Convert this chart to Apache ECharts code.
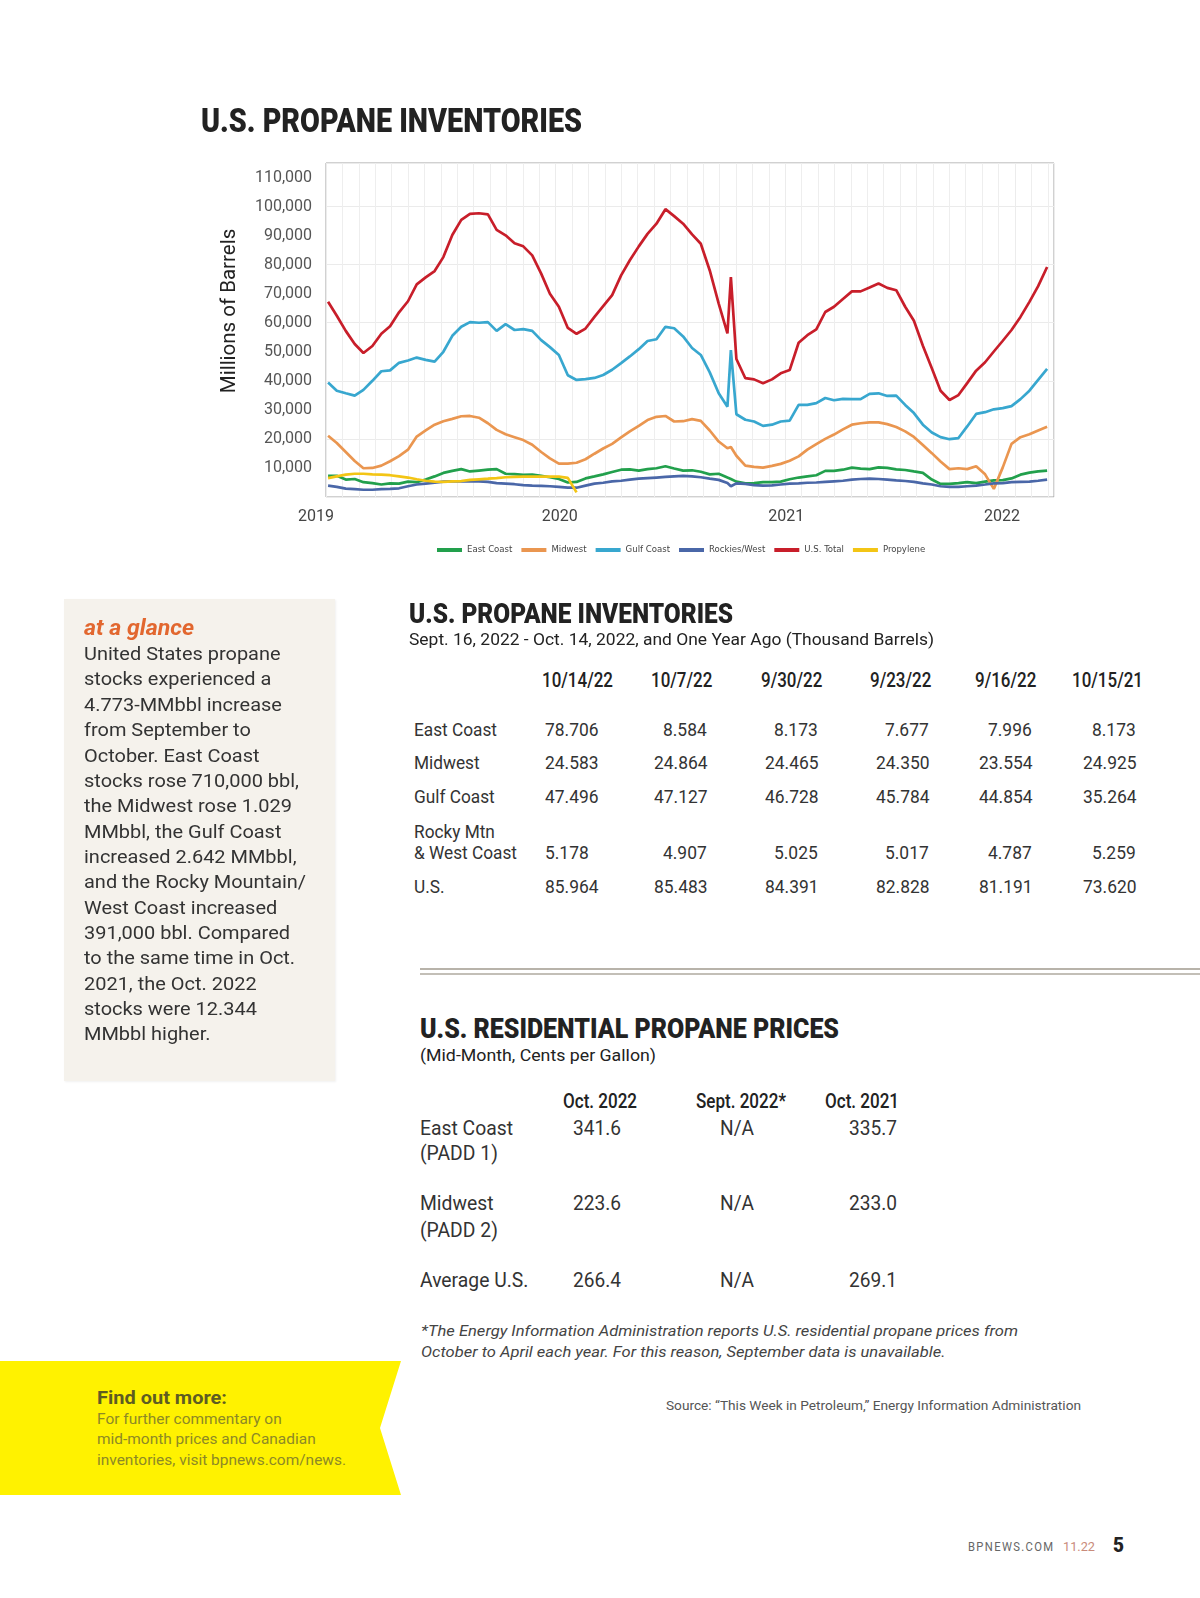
<!DOCTYPE html>
<html>
<head>
<meta charset="utf-8">
<script src="https://cdn.jsdelivr.net/npm/echarts@6/dist/echarts.min.js"></script>
<style>
  html, body { margin:0; padding:0; background:#fff; }
  body { width:1200px; height:1598px; position:relative; overflow:hidden; font-family: Roboto, "Noto Sans", sans-serif; }
  #chart { position:absolute; left:0; top:0; width:1200px; height:600px; }
  .box { position:absolute; }
</style>
</head>
<body>
<div id="chart"></div>
<div class="box" style="left:64px;top:599px;width:271px;height:482px;background:#f5f2ec;box-shadow:1px 1px 2px rgba(0,0,0,0.06);"></div>
<div class="box" style="left:420px;top:968px;width:780px;height:2px;background:#b8b3aa;"></div>
<div class="box" style="left:420px;top:973px;width:780px;height:2px;background:#c3bfb7;"></div>
<div class="box" style="left:0;top:1361px;width:401px;height:134px;background:#fff200;clip-path:polygon(0 0,401px 0,380px 67px,401px 134px,0 134px);"></div>
<script>
// ---------------- chart data (thousand barrels) ----------------
const seriesNames = ['East Coast','Midwest','Gulf Coast','Rockies/West','U.S. Total','Propylene'];
const xTickLabels = ['2019','2020','2021','2022'];
// sample positions along the time axis (decimal years)
const xPos = [2019.009,2019.047,2019.086,2019.125,2019.163,2019.202,2019.241,2019.279,2019.318,2019.357,
2019.395,2019.434,2019.473,2019.511,2019.550,2019.589,2019.627,2019.666,2019.705,2019.743,
2019.782,2019.821,2019.859,2019.898,2019.937,2019.975,2020.014,2020.053,2020.091,2020.130,
2020.169,2020.207,2020.246,2020.285,2020.323,2020.362,2020.400,2020.439,2020.478,2020.516,
2020.555,2020.594,2020.632,2020.671,2020.710,2020.748,2020.763,2020.787,2020.826,2020.864,
2020.903,2020.942,2020.980,2021.019,2021.058,2021.096,2021.135,2021.174,2021.212,2021.251,
2021.290,2021.328,2021.367,2021.406,2021.444,2021.483,2021.522,2021.560,2021.599,2021.638,
2021.676,2021.715,2021.754,2021.792,2021.831,2021.870,2021.908,2021.947,2021.985,2022.024,
2022.063,2022.101,2022.140];
const eastCoast = [7300,7300,6000,6200,5100,4800,4300,4700,4600,5300,
5100,6000,7100,8300,9000,9600,8800,9100,9400,9600,
8000,7900,7600,7700,7300,6800,6200,5000,5200,6400,
7100,7800,8600,9400,9500,9100,9600,9900,10600,9800,
9100,9200,8700,7800,8000,6700,6200,5300,4700,4800,
5100,5100,5300,6100,6700,7100,7500,9000,9000,9400,
10100,9800,9600,10200,10000,9500,9300,8800,8300,6000,
4500,4500,4800,5100,4800,5300,5700,5800,6400,7700,
8400,8800,9100];
const midwest = [21100,18600,15500,12400,9900,10000,10800,12300,14100,16300,
20800,22900,24900,26100,26900,27800,27900,27300,25400,23100,
21600,20600,19600,18000,15500,13300,11500,11500,11800,13000,
14900,16700,18300,20500,22600,24500,26500,27600,27900,26000,
26100,26800,26200,22900,19100,16800,17200,14200,10800,10400,
10100,10700,11400,12500,14000,16300,18200,20000,21500,23300,
24900,25400,25700,25700,25100,24100,22600,20700,17900,15100,
12200,9600,9900,9600,10600,7800,2800,10200,18300,20600,
21600,22900,24200];
const gulfCoast = [39400,36600,35700,34900,36900,40000,43300,43600,46200,47000,
48000,47200,46600,50000,55500,58600,60200,60000,60200,57200,
59500,57500,57800,57200,54000,51600,48900,41900,40300,40600,
41000,42000,43800,46100,48400,50900,53700,54300,58600,58100,
55300,51300,48900,42900,35700,31100,50600,28500,26600,26000,
24500,24900,26000,26300,31700,31700,32300,34100,33300,33800,
33700,33700,35500,35700,34800,34900,31700,28900,24900,22200,
20600,19900,20300,24300,28600,29200,30200,30600,31300,33700,
36600,40300,44100];
const rockiesWest = [3900,3500,2900,2700,2500,2500,2700,2800,3000,3700,
4300,4600,4900,5300,5400,5400,5400,5400,5200,4800,
4600,4400,4100,3900,3800,3700,3500,3200,3200,3900,
4600,4900,5400,5600,6000,6300,6500,6700,6900,7100,
7300,7100,6800,6300,5900,4800,3700,4700,4500,4100,
3900,4000,4300,4600,4700,4900,5000,5200,5400,5600,
6000,6200,6300,6200,6000,5700,5500,5200,4700,4300,
3700,3500,3500,3700,3900,4300,4700,4800,5100,5200,
5300,5600,6000];
const usTotal = [67200,62400,57200,52700,49600,52000,56200,58800,63600,67400,
73200,75600,77800,82600,90200,95400,97500,97700,97300,92000,
90100,87400,86300,83200,76900,70000,65500,58200,56200,58000,
62000,65700,69500,76300,81500,86300,90600,94100,99100,96700,
94100,90400,87200,78000,66600,56300,75700,47500,40900,40500,
39200,40500,42600,43700,53100,55700,57700,63700,65500,68200,
70800,70800,72100,73500,72000,71200,65500,60700,52100,44300,
36600,33400,35100,39200,43500,46400,50100,53800,57500,62000,
67200,72600,79200];
const propylene = [6500,7100,7700,8000,8000,7800,7700,7500,7100,6700,
6100,5600,5300,5200,5400,5500,5900,6100,6300,6500,
6800,6900,7000,7000,7000,7000,7000,6600,1600];

// ---------------- table data ----------------
const invDates = ['10/14/22','10/7/22','9/30/22','9/23/22','9/16/22','10/15/21'];
const invRowLabels = ['East Coast','Midwest','Gulf Coast','& West Coast','U.S.'];
const invEast = ['78.706','8.584','8.173','7.677','7.996','8.173'];
const invMidwest = ['24.583','24.864','24.465','24.350','23.554','24.925'];
const invGulf = ['47.496','47.127','46.728','45.784','44.854','35.264'];
const invRocky = ['5.178','4.907','5.025','5.017','4.787','5.259'];
const invUS = ['85.964','85.483','84.391','82.828','81.191','73.620'];
const priceCols = ['Oct. 2022','Sept. 2022*','Oct. 2021'];
const priceEast = ['341.6','N/A','335.7'];
const priceMidwest = ['223.6','N/A','233.0'];
const priceAvg = ['266.4','N/A','269.1'];
const glanceLines = ['United States propane','stocks experienced a','4.773-MMbbl increase','from September to',
'October. East Coast','stocks rose 710,000 bbl,','the Midwest rose 1.029','MMbbl, the Gulf Coast',
'increased 2.642 MMbbl,','and the Rocky Mountain/','West Coast increased','391,000 bbl. Compared',
'to the same time in Oct.','2021, the Oct. 2022','stocks were 12.344','MMbbl higher.'];

// ---------------- chart ----------------
const colors = ['#22a04c','#ea9650','#38a7cf','#4a67a8','#c81e2a','#f3c515'];
const allSeries = [eastCoast, midwest, gulfCoast, rockiesWest, usTotal, propylene];
const lblBase = {fontSize:16, color:'#444', fontFamily:'Roboto'};
const chart = echarts.init(document.getElementById('chart'), null, {renderer:'canvas'});
chart.setOption({
  animation:false,
  grid:{left:326, top:163, width:728, height:334, show:true, borderColor:'#a3a3a3', borderWidth:1, backgroundColor:'#fff'},
  legend:{left:432, top:540, itemWidth:25, itemHeight:4, itemGap:9, icon:'rect',
    textStyle:{fontSize:9.5, color:'#444', fontFamily:'"Liberation Sans Narrow","DejaVu Sans Condensed",Roboto,sans-serif'},
    data:seriesNames},
  xAxis:{type:'value', min:2019, max:2022.17, interval:1,
    axisLine:{show:false}, axisTick:{show:false},
    axisLabel:{fontSize:16, color:'#444', margin:12, fontFamily:'Roboto',
      formatter:(v)=>{ const s = String(Math.round(v)); return (Math.abs(v-Math.round(v))<1e-6 && xTickLabels.includes(s)) ? '{y'+s+'|'+s+'}' : ''; },
      rich:{
        y2019:Object.assign({padding:[0,20,0,0]}, lblBase),
        y2020:Object.assign({padding:[0,0,0,8]}, lblBase),
        y2021:Object.assign({padding:[0,0,0,2]}, lblBase),
        y2022:Object.assign({padding:[0,26,0,0]}, lblBase)
      }},
    splitLine:{show:true, lineStyle:{color:'#ececec', width:1}},
    minorTick:{show:false, splitNumber:14},
    minorSplitLine:{show:true, lineStyle:{color:'#eeeeee', width:1}}},
  yAxis:[
    {type:'value', min:0, max:115000, interval:10000,
     name:'Millions of Barrels', nameLocation:'middle', nameGap:86,
     nameTextStyle:{fontSize:20.5, color:'#222', fontFamily:'Roboto', padding:[0,0,0,38]},
     axisLine:{show:false}, axisTick:{show:false}, splitLine:{show:false},
     axisLabel:{fontSize:16, color:'#555', margin:14, fontFamily:'Roboto',
       formatter:(v)=> (v>0 && v<=110000) ? v.toLocaleString('en-US') : ''}},
    {type:'value', min:0, max:115000, interval:20000, position:'left',
     axisLine:{show:false}, axisTick:{show:false}, axisLabel:{show:false},
     splitLine:{show:true, lineStyle:{color:'#ebebeb', width:1}}}
  ],
  series: seriesNames.map((n,k)=>({
    name:n, type:'line', yAxisIndex:0, showSymbol:false, symbol:'none',
    data: allSeries[k].map((v,i)=>[xPos[i], v]),
    lineStyle:{width:2.7, color:colors[k]}, itemStyle:{color:colors[k]},
    z: k===4 ? 5 : 3
  }))
});

// ---------------- HTML text ----------------
function put(text, x, cy, o){
  const d = document.createElement('div');
  d.textContent = text;
  d.style.cssText = 'position:absolute;white-space:nowrap;left:0;transform-origin:0 0;'
    + 'top:'+(cy - o.size*0.6)+'px;font-family:'+(o.family||'Roboto, sans-serif')+';font-size:'+o.size+'px;'
    + 'line-height:'+(o.size*1.2)+'px;font-weight:'+(o.weight||400)+';font-style:'+(o.style||'normal')+';'
    + 'color:'+(o.color||'#333')+';' + (o.ls ? 'letter-spacing:'+o.ls+'px;' : '');
  document.body.appendChild(d);
  const nat = d.getBoundingClientRect().width;
  const s = o.w ? o.w/nat : (o.sx || 1);
  d.style.transform = 'scaleX('+s+')';
  let left = x;
  if (o.align==='right') left = x - nat*s;
  else if (o.align==='center') left = x - nat*s/2;
  d.style.left = left+'px';
  return d;
}
function natScale(text, target, o){
  const d = document.createElement('span');
  d.textContent = text;
  d.style.cssText = 'position:absolute;white-space:nowrap;visibility:hidden;font-family:'+(o.family||'Roboto, sans-serif')
   +';font-size:'+o.size+'px;font-weight:'+(o.weight||400)+';font-style:'+(o.style||'normal')+';'+(o.ls?'letter-spacing:'+o.ls+'px;':'');
  document.body.appendChild(d);
  const w = d.getBoundingClientRect().width; d.remove();
  return target / w;
}

// titles
put('U.S. PROPANE INVENTORIES', 201, 120, {size:34, weight:900, color:'#222', w:381});
put('U.S. PROPANE INVENTORIES', 409, 614, {size:28, weight:900, color:'#222', w:324});
put('Sept. 16, 2022 - Oct. 14, 2022, and One Year Ago (Thousand Barrels)', 409, 639, {size:17, color:'#222', w:525});

// inventory table
const TH = {size:19.5, weight:500, color:'#222'};
TH.sx = natScale('10/14/22', 71, TH);
const thCenters = [577, 681.5, 792, 901, 1005.5, 1107];
invDates.forEach((t,i)=> put(t, thCenters[i], 681, Object.assign({align:'center'}, TH)));
const TL = {size:19, color:'#333'}; TL.sx = natScale('East Coast', 83, TL);
const TN = {size:19, color:'#333'}; TN.sx = natScale('78.706', 53.5, TN);
const rowY = [730, 763.6, 797.3, 853.3, 887];
put('Rocky Mtn', 414, 832, TL);
invRowLabels.forEach((t,i)=> put(t, 414, rowY[i], TL));
const colRight = [null, 707, 818, 929, 1032, 1136];
[invEast, invMidwest, invGulf, invRocky, invUS].forEach((row, r)=>{
  row.forEach((v,c)=>{
    if (c===0) put(v, 545, rowY[r], TN);
    else put(v, colRight[c], rowY[r], Object.assign({align:'right'}, TN));
  });
});

// prices table
put('U.S. RESIDENTIAL PROPANE PRICES', 420, 1029, {size:28, weight:900, color:'#222', w:419});
put('(Mid-Month, Cents per Gallon)', 420, 1055, {size:17, color:'#222', w:236});
const PH = {size:19.5, weight:500, color:'#222'}; PH.sx = natScale('Oct. 2022', 74, PH);
const phCenters = [600, 741, 862];
priceCols.forEach((t,i)=> put(t, phCenters[i], 1102, Object.assign({align:'center'}, PH)));
const PL = {size:20, color:'#333'}; PL.sx = natScale('East Coast', 93, PL);
const PN = {size:20, color:'#333'}; PN.sx = natScale('341.6', 48, PN);
put('East Coast', 420, 1127.6, PL); put('(PADD 1)', 420, 1153, PL);
put('Midwest', 420, 1203, PL); put('(PADD 2)', 420, 1229.5, PL);
put('Average U.S.', 420, 1279.5, PL);
[[priceEast,1127.6],[priceMidwest,1203],[priceAvg,1279.5]].forEach(([row,y])=>{
  put(row[0], 573, y, PN);
  put(row[1], 720, y, PN);
  put(row[2], 897, y, Object.assign({align:'right'}, PN));
});
const FN = {size:15.5, style:'italic', color:'#444'};
FN.sx = natScale('*The Energy Information Administration reports U.S. residential propane prices from', 597, FN);
put('*The Energy Information Administration reports U.S. residential propane prices from', 421, 1331.5, FN);
put('October to April each year. For this reason, September data is unavailable.', 421, 1352, FN);
put('Source: \u201cThis Week in Petroleum,\u201d Energy Information Administration', 666, 1405, {size:13.5, color:'#555', w:415});

// sidebar
put('at a glance', 84, 628, {size:22, weight:700, style:'italic', color:'#e2672f', w:110});
const GL = {size:19, color:'#333'}; GL.sx = natScale('stocks rose 710,000 bbl,', 215, GL);
glanceLines.forEach((t,i)=> put(t, 84, 654.5 + 25.35*i, GL));

// banner
put('Find out more:', 97, 1398, {size:19, weight:700, color:'#5e5c22', w:130});
const BL = {size:15.5, color:'#8d8926'}; BL.sx = natScale('inventories, visit bpnews.com/news.', 249, BL);
put('For further commentary on', 97, 1419, BL);
put('mid-month prices and Canadian', 97, 1439.5, BL);
put('inventories, visit bpnews.com/news.', 97, 1460, BL);

// footer
put('BPNEWS.COM', 967.5, 1546.6, {size:12.5, color:'#666', ls:1.5, w:86.5});
put('11.22', 1063, 1546.6, {size:12.5, color:'#c98b7b', w:32});
put('5', 1113, 1545.5, {size:21, weight:900, color:'#222', w:11});
</script>
</body>
</html>
